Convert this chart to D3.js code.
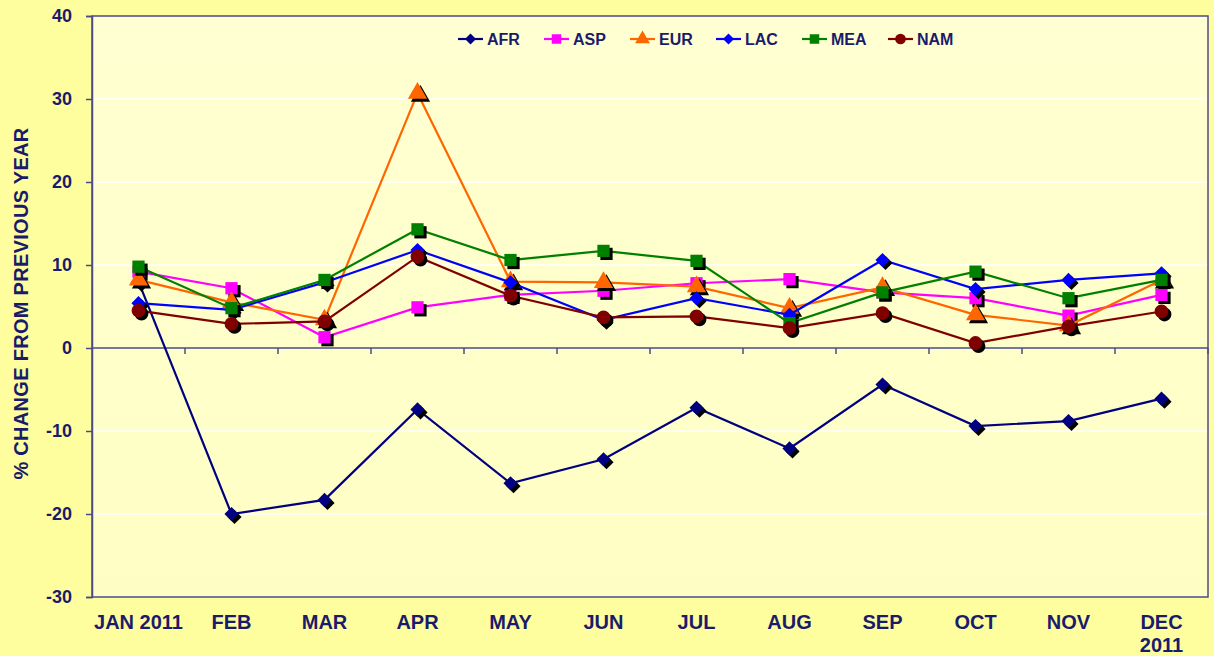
<!DOCTYPE html>
<html>
<head>
<meta charset="utf-8">
<script src="https://cdn.jsdelivr.net/npm/d3@7"></script>
<style>
  body { margin: 0; background: #fefe9e; }
  svg { display: block; font-family: Arial, "Liberation Sans", sans-serif; font-weight: bold; }
</style>
</head>
<body>
<div id="chart"></div>
<script>
// Data
const months = ["JAN 2011", "FEB", "MAR", "APR", "MAY", "JUN", "JUL", "AUG", "SEP", "OCT", "NOV", "DEC 2011"];
const regions = ["AFR", "ASP", "EUR", "LAC", "MEA", "NAM"];
const afr = [8.0, -20.0, -18.3, -7.4, -16.3, -13.4, -7.2, -12.1, -4.4, -9.4, -8.8, -6.1];
const asp = [9.2, 7.2, 1.3, 4.9, 6.4, 6.9, 7.8, 8.3, 6.7, 6.0, 3.9, 6.4];
const eur = [8.2, 5.5, 3.4, 30.7, 8.0, 7.9, 7.4, 4.8, 7.3, 4.0, 2.7, 8.2];
const lac = [5.4, 4.6, 7.9, 11.8, 7.9, 3.4, 6.0, 4.0, 10.6, 7.1, 8.2, 9.0];
const mea = [9.8, 4.8, 8.2, 14.3, 10.6, 11.7, 10.5, 3.0, 6.7, 9.2, 6.0, 8.2];
const nam = [4.5, 2.9, 3.2, 11.0, 6.3, 3.7, 3.8, 2.4, 4.2, 0.6, 2.6, 4.4];
const yTicks = [-30, -20, -10, 0, 10, 20, 30, 40];

// Square diamond (rotated square), as in the original
const squareDiamond = {
  draw(context, size) {
    const r = Math.sqrt(size / 2);
    context.moveTo(0, -r);
    context.lineTo(r, 0);
    context.lineTo(0, r);
    context.lineTo(-r, 0);
    context.closePath();
  }
};

const seriesValues = [afr, asp, eur, lac, mea, nam];
const colors = ["#000080", "#ff00ff", "#ff6600", "#0000ff", "#008000", "#800000"];
const symbols = [squareDiamond, d3.symbolSquare, d3.symbolTriangle, squareDiamond, d3.symbolSquare, d3.symbolCircle];
const symbolSizes = [100, 150, 160, 100, 150, 150];

const series = regions.map((r, i) => ({
  name: r,
  color: colors[i],
  symbol: symbols[i],
  size: symbolSizes[i],
  values: seriesValues[i].map((v, j) => ({ month: months[j], value: v }))
}));

// Dimensions
const width = 1214;
const height = 656;
const margin = { top: 16, right: 6, bottom: 59, left: 92 };

const svg = d3.select("#chart")
  .append("svg")
    .attr("width", width)
    .attr("height", height);

const defs = svg.append("defs");
const grad = defs.append("linearGradient")
    .attr("id", "plotbg")
    .attr("x1", 0).attr("y1", 0).attr("x2", 0).attr("y2", 1);
grad.append("stop").attr("offset", "0%").attr("stop-color", "#ffffd2");
grad.append("stop").attr("offset", "100%").attr("stop-color", "#fefec4");

const x = d3.scaleBand()
  .domain(months)
  .range([margin.left, width - margin.right]);

const y = d3.scaleLinear()
  .domain([-30, 40])
  .range([height - margin.bottom, margin.top]);

const axisColor = "#4b4b8c";
const textColor = "#1b1b6b";

// Plot area
svg.append("rect")
    .attr("x", margin.left)
    .attr("y", margin.top)
    .attr("width", width - margin.left - margin.right)
    .attr("height", height - margin.top - margin.bottom)
    .attr("fill", "url(#plotbg)");

// Gridlines
svg.append("g")
  .selectAll("line")
  .data(yTicks.filter(t => t !== -30 && t !== 40 && t !== 0))
  .join("line")
    .attr("x1", margin.left)
    .attr("x2", width - margin.right)
    .attr("y1", d => y(d))
    .attr("y2", d => y(d))
    .attr("stroke", "#ffffff")
    .attr("stroke-width", 1.5);

// Plot border
svg.append("rect")
    .attr("x", margin.left)
    .attr("y", margin.top)
    .attr("width", width - margin.left - margin.right)
    .attr("height", height - margin.top - margin.bottom)
    .attr("fill", "none")
    .attr("stroke", axisColor)
    .attr("stroke-width", 1.5);

// Y axis
const yAxis = svg.append("g")
    .attr("transform", `translate(${margin.left},0)`)
    .call(d3.axisLeft(y).tickValues(yTicks).tickSize(6).tickPadding(14).tickFormat(d => String(d)));
yAxis.select(".domain").attr("stroke", axisColor).attr("stroke-width", 1.5);
yAxis.selectAll(".tick line").attr("stroke", axisColor).attr("stroke-width", 1.5);
yAxis.selectAll(".tick text")
    .attr("fill", textColor)
    .style("font-size", "18px")
    .style("font-weight", "bold");

// X axis line at zero with ticks at category boundaries
const xLine = svg.append("g");
xLine.append("line")
    .attr("x1", margin.left)
    .attr("x2", width - margin.right)
    .attr("y1", y(0))
    .attr("y2", y(0))
    .attr("stroke", axisColor)
    .attr("stroke-width", 1.5);
xLine.selectAll(".xtick")
  .data(months)
  .join("line")
    .attr("class", "xtick")
    .attr("x1", d => x(d) + x.bandwidth())
    .attr("x2", d => x(d) + x.bandwidth())
    .attr("y1", y(0))
    .attr("y2", y(0) + 6)
    .attr("stroke", axisColor)
    .attr("stroke-width", 1.5);

// X labels at the bottom
const xLabels = svg.append("g")
  .selectAll("text")
  .data(months)
  .join("text")
    .attr("x", d => x(d) + x.bandwidth() / 2)
    .attr("y", height - margin.bottom + 32)
    .attr("text-anchor", "middle")
    .attr("fill", textColor)
    .style("font-size", "20px");
xLabels.each(function(d, i) {
  const t = d3.select(this);
  if (i === months.length - 1) {
    const parts = d.split(" ");
    t.append("tspan").attr("x", x(d) + x.bandwidth() / 2).text(parts[0]);
    t.append("tspan").attr("x", x(d) + x.bandwidth() / 2).attr("dy", 23).text(parts[1]);
  } else {
    t.text(d);
  }
});

// Y axis title
svg.append("text")
    .attr("transform", `translate(28, ${(margin.top + height - margin.bottom) / 2 - 3}) rotate(-90)`)
    .attr("text-anchor", "middle")
    .attr("fill", textColor)
    .style("font-size", "20px")
    .style("letter-spacing", "0.3px")
    .text("% CHANGE FROM PREVIOUS YEAR");

// Lines
const line = d3.line()
  .x(d => x(d.month) + x.bandwidth() / 2)
  .y(d => y(d.value));

const seriesG = svg.append("g")
  .selectAll(".series")
  .data(series)
  .join("g")
    .attr("class", "series");

seriesG.append("path")
    .attr("d", d => line(d.values))
    .attr("fill", "none")
    .attr("stroke", d => d.color)
    .attr("stroke-width", 2.2);

// Markers with drop shadow
seriesG.each(function(s) {
  const g = d3.select(this);
  const sym = d3.symbol().type(s.symbol).size(s.size);
  g.selectAll(".shadow")
    .data(s.values)
    .join("path")
      .attr("class", "shadow")
      .attr("d", sym)
      .attr("transform", d => `translate(${x(d.month) + x.bandwidth() / 2 + 3},${y(d.value) + 3})`)
      .attr("fill", "#000000");
  g.selectAll(".marker")
    .data(s.values)
    .join("path")
      .attr("class", "marker")
      .attr("d", sym)
      .attr("transform", d => `translate(${x(d.month) + x.bandwidth() / 2},${y(d.value)})`)
      .attr("fill", s.color);
});

// Legend
const legend = svg.append("g")
    .attr("transform", "translate(458, 39)");
const legendItems = legend.selectAll(".legend-item")
  .data(series)
  .join("g")
    .attr("class", "legend-item")
    .attr("transform", (d, i) => `translate(${i * 86}, 0)`);
legendItems.append("line")
    .attr("x1", 0)
    .attr("x2", 25)
    .attr("stroke", d => d.color)
    .attr("stroke-width", 2.2);
legendItems.append("path")
    .attr("d", d => d3.symbol().type(d.symbol).size(d.size * 0.6)())
    .attr("transform", "translate(12.5,0)")
    .attr("fill", d => d.color);
legendItems.append("text")
    .attr("x", 29)
    .attr("dy", "0.36em")
    .attr("fill", textColor)
    .style("font-size", "16px")
    .text(d => d.name);
</script>
</body>
</html>
